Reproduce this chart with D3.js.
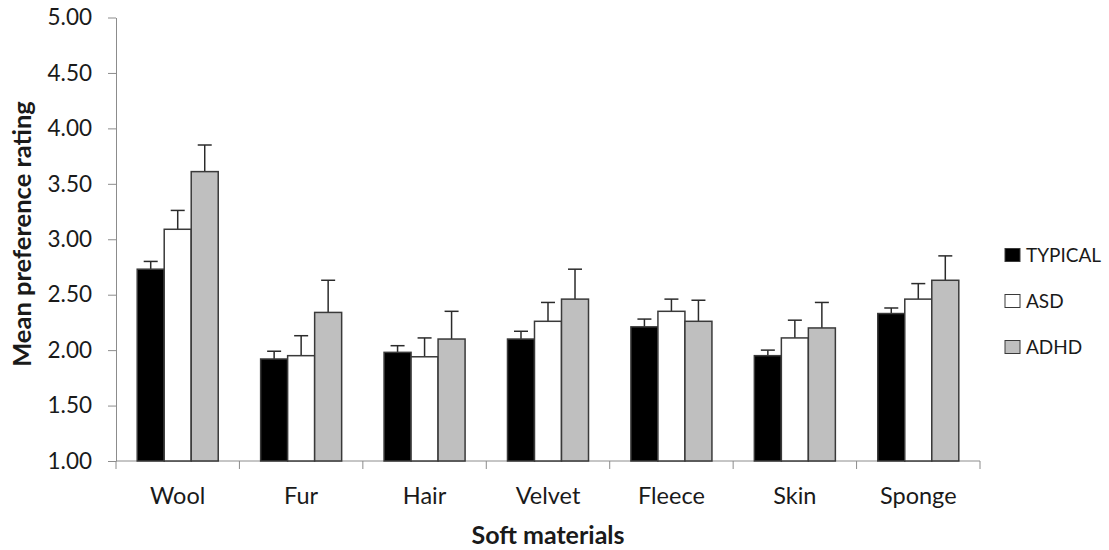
<!DOCTYPE html>
<html>
<head>
<meta charset="utf-8">
<script src="https://cdn.jsdelivr.net/npm/d3@7"></script>
<style>
  html, body { margin: 0; padding: 0; background: #fff; }
  svg { display: block; font-family: Lato, "Open Sans", sans-serif; }
</style>
</head>
<body>
<svg id="chart" width="1109" height="550"></svg>
<script>
// Soft materials and mean preference ratings per group
const categories = ["Wool", "Fur", "Hair", "Velvet", "Fleece", "Skin", "Sponge"];
const seriesNames = ["TYPICAL", "ASD", "ADHD"];
const typicalMeans = [2.73, 1.92, 1.98, 2.10, 2.21, 1.95, 2.33];
const asdMeans     = [3.09, 1.95, 1.94, 2.26, 2.35, 2.11, 2.46];
const adhdMeans    = [3.61, 2.34, 2.10, 2.46, 2.26, 2.20, 2.63];
// Upper error (standard error) for each bar
const typicalErr = [0.07, 0.07, 0.06, 0.07, 0.07, 0.05, 0.05];
const asdErr     = [0.17, 0.18, 0.17, 0.17, 0.11, 0.16, 0.14];
const adhdErr    = [0.24, 0.29, 0.25, 0.27, 0.19, 0.23, 0.22];
const yTicks = [1.00, 1.50, 2.00, 2.50, 3.00, 3.50, 4.00, 4.50, 5.00];

const means = [typicalMeans, asdMeans, adhdMeans];
const errs = [typicalErr, asdErr, adhdErr];
const fills = ["#000000", "#ffffff", "#bfbfbf"];

const svg = d3.select("#chart");
const plot = { left: 116, right: 980, top: 17.5, bottom: 461 };

const x = d3.scaleBand().domain(categories).range([plot.left, plot.right]).padding(0);
const xs = d3.scaleBand().domain(seriesNames).range([0, x.bandwidth()])
  .paddingInner(0).paddingOuter(0.785);
const y = d3.scaleLinear().domain([1, 5]).range([plot.bottom, plot.top]);

// Y axis
const yAxis = svg.append("g")
  .attr("transform", `translate(${plot.left},0)`)
  .call(d3.axisLeft(y).tickValues(yTicks).tickFormat(d3.format(".2f"))
    .tickSizeInner(8).tickSizeOuter(0).tickPadding(16));
yAxis.select(".domain").attr("stroke", "#8c8c8c").attr("stroke-width", 1);
yAxis.selectAll(".tick line").attr("stroke", "#8c8c8c");
yAxis.selectAll(".tick text")
  .attr("font-family", "Lato, sans-serif")
  .attr("font-size", 22.5).attr("fill", "#1a1a1a");

// X axis baseline and category boundary ticks
const xAxisG = svg.append("g").attr("transform", `translate(0,${plot.bottom})`);
xAxisG.append("line")
  .attr("x1", plot.left).attr("x2", plot.right)
  .attr("stroke", "#8c8c8c");
const bounds = categories.map(c => x(c)).concat([x(categories[categories.length - 1]) + x.bandwidth()]);
xAxisG.selectAll("line.bound").data(bounds).join("line")
  .attr("class", "bound")
  .attr("x1", d => d).attr("x2", d => d)
  .attr("y1", 0).attr("y2", 8)
  .attr("stroke", "#8c8c8c");
xAxisG.selectAll("text.cat").data(categories).join("text")
  .attr("class", "cat")
  .attr("x", d => x(d) + x.bandwidth() / 2)
  .attr("y", 43)
  .attr("text-anchor", "middle")
  .attr("font-size", 23.5).attr("fill", "#1a1a1a")
  .text(d => d);

// Bars with upward error bars
const groups = svg.append("g").selectAll("g").data(categories).join("g")
  .attr("transform", d => `translate(${x(d)},0)`);

seriesNames.forEach((s, si) => {
  const capW = 14;
  const cx = xs(s) + xs.bandwidth() / 2;
  groups.append("line")
    .attr("x1", cx).attr("x2", cx)
    .attr("y1", (d, i) => y(means[si][i]))
    .attr("y2", (d, i) => y(means[si][i] + errs[si][i]))
    .attr("stroke", "#2b2b2b").attr("stroke-width", 1.5);
  groups.append("line")
    .attr("x1", cx - capW / 2).attr("x2", cx + capW / 2)
    .attr("y1", (d, i) => y(means[si][i] + errs[si][i]))
    .attr("y2", (d, i) => y(means[si][i] + errs[si][i]))
    .attr("stroke", "#2b2b2b").attr("stroke-width", 1.5);
  groups.append("rect")
    .attr("x", xs(s))
    .attr("width", xs.bandwidth())
    .attr("y", (d, i) => y(means[si][i]))
    .attr("height", (d, i) => y(1) - y(means[si][i]))
    .attr("fill", fills[si])
    .attr("stroke", "#3a3a3a").attr("stroke-width", 1.5);
});

// Axis titles
svg.append("text")
  .attr("transform", `translate(31,234) rotate(-90)`)
  .attr("text-anchor", "middle")
  .attr("font-size", 25.5).attr("font-weight", "bold").attr("fill", "#1a1a1a")
  .text("Mean preference rating");

svg.append("text")
  .attr("x", (plot.left + plot.right) / 2).attr("y", 544)
  .attr("text-anchor", "middle")
  .attr("font-size", 25).attr("font-weight", "bold").attr("fill", "#1a1a1a")
  .text("Soft materials");

// Legend
const legend = svg.append("g").attr("transform", "translate(1005,0)");
const legendY = [255, 301, 347];
const items = legend.selectAll("g").data(seriesNames).join("g")
  .attr("transform", (d, i) => `translate(0,${legendY[i]})`);
items.append("rect")
  .attr("x", 0).attr("y", -6.5).attr("width", 15).attr("height", 13)
  .attr("fill", (d, i) => fills[i]).attr("stroke", "#3a3a3a").attr("stroke-width", 1);
items.append("text")
  .attr("x", 21).attr("y", 7)
  .attr("font-size", 19).attr("fill", "#1a1a1a")
  .text(d => d);
</script>
</body>
</html>
